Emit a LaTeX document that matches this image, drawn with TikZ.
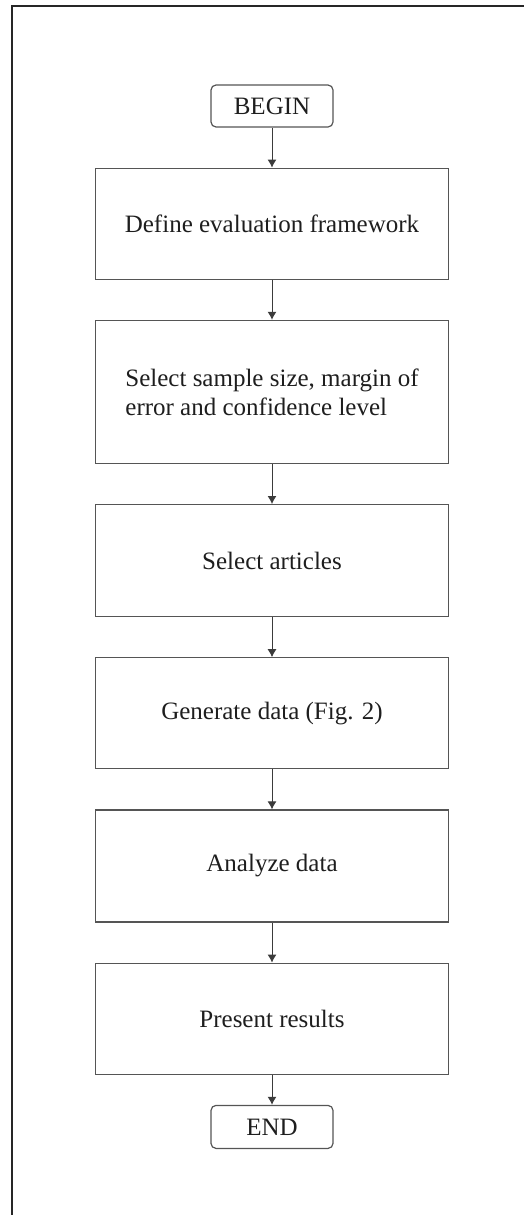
\documentclass[tikz,border=0pt]{standalone}
\usepackage{fontspec}
\setmainfont{Liberation Serif}
\usepackage{xcolor}
\usepackage{tikz}
\usetikzlibrary{positioning, arrows.meta}

\definecolor{boxline}{HTML}{555555}
\definecolor{txt}{HTML}{1E1E1E}

\begin{document}
\begin{tikzpicture}[
		term/.style = {draw=boxline, line width=0.6pt, rounded corners=2.5pt, minimum width=61pt, minimum height=21pt, inner sep=0pt, text=txt, font=\fontsize{12.5}{14.5}\selectfont},
		proc/.style = {draw=boxline, line width=0.6pt, minimum width=176.5pt, minimum height=55.5pt, inner sep=0pt, text=txt, font=\fontsize{12.5}{14.5}\selectfont},
		node distance=20pt,
		>={Latex[length=4pt,width=4.5pt]}]
		\useasboundingbox (0,0) rectangle (262pt,-607.5pt);
		% frame
		\draw[line width=1pt, black!85] (6pt,-607.5pt) -- (6pt,-3pt) -- (262pt,-3pt);

		\node[term] (begin) at (136pt,-53pt) {BEGIN};
		\node[proc] (define) [below=of begin] {Define evaluation framework};
		\node[proc, minimum height=71.5pt, align=left] (sample) [below=of define] {Select sample size, margin of\\error and confidence level};
		\node[proc, minimum height=56pt] (articles) [below=of sample] {Select articles};
		\node[proc] (generate) [below=of articles] {Generate data (Fig. 2)};
		\node[proc, minimum height=56pt] (analyze) [below=of generate] {Analyze data};
		\node[proc] (present) [below=of analyze] {Present results};
		\node[term, minimum height=21.5pt] (stop) [below=15pt of present] {END};

		\draw[->, boxline!70!black, line width=0.5pt] (begin) -- (define);
		\draw[->, boxline!70!black, line width=0.5pt] (define) -- (sample);
		\draw[->, boxline!70!black, line width=0.5pt] (sample) -- (articles);
		\draw[->, boxline!70!black, line width=0.5pt] (articles) -- (generate);
		\draw[->, boxline!70!black, line width=0.5pt] (generate) -- (analyze);
		\draw[->, boxline!70!black, line width=0.5pt] (analyze) -- (present);
		\draw[->, boxline!70!black, line width=0.5pt] (present) -- (stop);

	\end{tikzpicture}
\end{document}
